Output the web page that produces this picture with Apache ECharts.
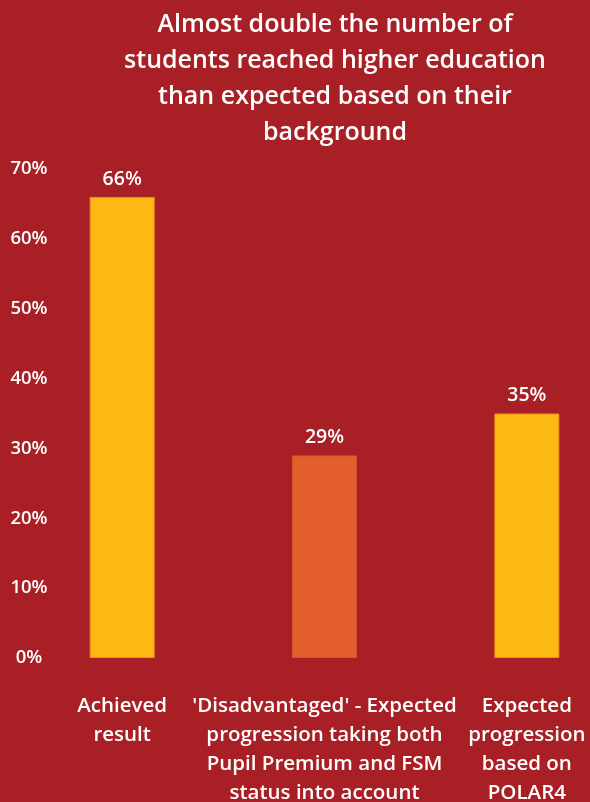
<!DOCTYPE html>
<html>
<head>
<meta charset="utf-8">
<script src="https://cdn.jsdelivr.net/npm/echarts@6/dist/echarts.min.js"></script>
<style>
  html, body { margin: 0; padding: 0; background: #A82025; }
  #chart { width: 590px; height: 802px; }
</style>
</head>
<body>
<div id="chart"></div>
<script>
// Share of students progressing to higher education
const categories = [
  "Achieved\nresult",
  "'Disadvantaged' - Expected\nprogression taking both\nPupil Premium and FSM\nstatus into account",
  "Expected\nprogression\nbased on\nPOLAR4"
];
const values = [66, 29, 35];
const barColors = ['#FDB913', '#E35F2E', '#FDB913'];
const barBorders = ['#EE8F1C', '#D8512A', '#EE8F1C'];

const titleText = 'Almost double the number of\nstudents reached higher education\nthan expected based on their\nbackground';
const FONT = '"Open Sans"';

const chart = echarts.init(document.getElementById('chart'), null, { renderer: 'canvas' });

chart.setOption({
  backgroundColor: '#A82025',
  animation: false,
  title: {
    text: titleText,
    left: 330,
    textAlign: 'center',
    top: 2,
    textStyle: {
      color: '#ffffff',
      fontFamily: FONT,
      fontWeight: 600,
      fontSize: 25,
      lineHeight: 36
    }
  },
  // the third category runs past the right edge, so the grid is wider than the canvas
  grid: { left: 21, width: 607, top: 169, bottom: 144, outerBoundsMode: 'none', containLabel: false },
  xAxis: {
    type: 'category',
    data: categories,
    axisLine: { show: false },
    axisTick: { show: false },
    axisLabel: {
      interval: 0,
      margin: 34,
      color: '#ffffff',
      fontFamily: FONT,
      fontWeight: 600,
      fontSize: 20.5,
      lineHeight: 29
    }
  },
  yAxis: {
    type: 'value',
    min: 0,
    max: 70,
    interval: 10,
    axisLine: { show: false },
    axisTick: { show: false },
    splitLine: { show: false },
    axisLabel: {
      formatter: '{value}%',
      align: 'center',
      margin: -8,
      color: '#ffffff',
      fontFamily: FONT,
      fontWeight: 600,
      fontSize: 18.5
    }
  },
  series: [{
    type: 'bar',
    barWidth: 65,
    data: values.map((v, i) => ({
      value: v,
      itemStyle: { color: barColors[i], borderColor: barBorders[i], borderWidth: 1 }
    })),
    label: {
      show: true,
      position: 'top',
      distance: 8,
      formatter: '{c}%',
      color: '#ffffff',
      fontFamily: FONT,
      fontWeight: 600,
      fontSize: 19.5
    }
  }]
});
</script>
</body>
</html>
